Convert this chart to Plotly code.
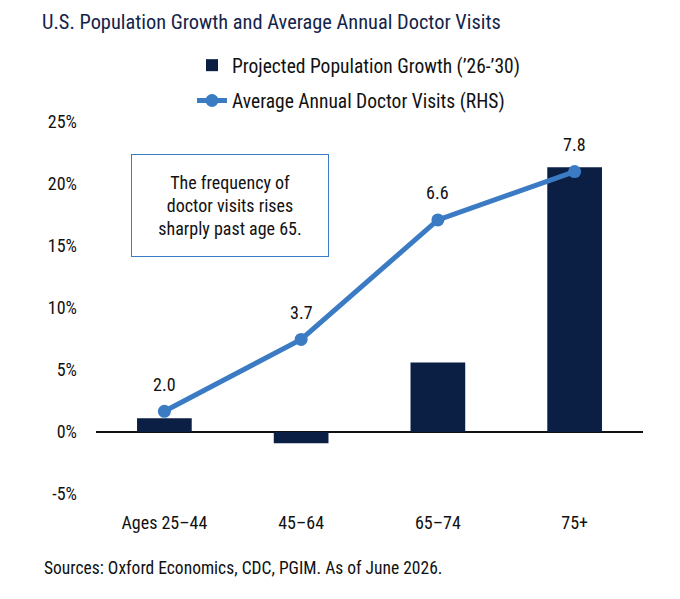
import plotly.graph_objects as go

categories = ["Ages 25–44", "45–64", "65–74", "75+"]
pop_growth = [1.1, -0.9, 5.6, 21.35]            # % projected population growth '26-'30
doctor_visits = [2.0, 3.74, 6.63, 7.8]          # average annual doctor visits (RHS)
y_tick_vals = [-5, 0, 5, 10, 15, 20, 25]
y_tick_text = ["-5%", "0%", "5%", "10%", "15%", "20%", "25%"]

FONT = "Roboto Condensed, Arial Narrow, sans-serif"
NAVY = "#0b1f45"
BLUE = "#3b7bc4"
TXT = "#111111"

OFF = 8  # page body margin offset
W, H = 680, 599
L, T = 96 - OFF, 122 - OFF
R = W - (643 - OFF)
B = H - (494 - OFF)
pw, ph = W - L - R, H - T - B

def px(xs):
    return (xs - OFF - L) / pw

def py(ys):
    return (H - B - (ys - OFF)) / ph

fig = go.Figure()
fig.add_trace(go.Bar(
    x=categories, y=pop_growth, name="Projected Population Growth (’26-’30)",
    marker=dict(color=NAVY, line=dict(width=0)), width=0.4,
    legendgroup="a", yaxis="y",
))
fig.add_trace(go.Scatter(
    x=categories, y=doctor_visits, name="Average Annual Doctor Visits (RHS)",
    mode="lines+markers", line=dict(color=BLUE, width=5),
    marker=dict(color=BLUE, size=13), legendgroup="b", yaxis="y2",
))

annotations = []
for c, v in zip(categories, doctor_visits):
    annotations.append(dict(x=c, y=v, xref="x", yref="y2", text=f"{v:.1f}", showarrow=False,
                            yanchor="middle", yshift=27,
                            font=dict(family=FONT, size=18, color=TXT)))

annotations.append(dict(
    x=px(230), y=py(205.5), xref="paper", yref="paper", xanchor="center", yanchor="middle",
    text="The frequency of<br>doctor visits rises<br>sharply past age 65.",
    showarrow=False, align="center", width=194, height=99,
    bordercolor=BLUE, borderwidth=1, borderpad=1, bgcolor="white",
    font=dict(family=FONT, size=18, color=TXT),
))
annotations.append(dict(
    x=px(42), y=py(568), xref="paper", yref="paper", xanchor="left", yanchor="middle",
    text="Sources: Oxford Economics, CDC, PGIM. As of June 2026.", showarrow=False,
    font=dict(family=FONT, size=17.5, color=TXT),
))

fig.update_layout(
    width=W, height=H, margin=dict(l=L, r=R, t=T, b=B, autoexpand=False),
    paper_bgcolor="white", plot_bgcolor="white",
    title=dict(text="U.S. Population Growth and Average Annual Doctor Visits",
               x=(42 - OFF) / W, xanchor="left", xref="container",
               y=1 - (22 - OFF) / H, yanchor="middle", yref="container",
               font=dict(family=FONT, size=20.4, color="#14244a")),
    font=dict(family=FONT, size=18, color=TXT),
    showlegend=True,
    legend=dict(xref="container", yref="container", x=(232 - OFF - 40) / W, y=1 - 38 / H,
                xanchor="left", yanchor="top", orientation="v",
                traceorder="grouped", tracegroupgap=7,
                font=dict(family=FONT, size=19.5, color=TXT), bgcolor="rgba(0,0,0,0)"),
    xaxis=dict(showgrid=False, showline=False, ticks="", ticklabelstandoff=16,
               tickfont=dict(family=FONT, size=18, color=TXT)),
    yaxis=dict(range=[-5, 25], tickvals=y_tick_vals, ticktext=y_tick_text, showgrid=False,
               zeroline=True, zerolinecolor="#111111", zerolinewidth=1.5,
               showline=False, ticks="", ticklabelstandoff=18,
               tickfont=dict(family=FONT, size=18, color=TXT)),
    yaxis2=dict(range=[0, 9], overlaying="y", side="right", visible=False,
                showgrid=False, zeroline=False),
    annotations=annotations,
    bargap=0.6,
)

fig.write_html("out.html")
